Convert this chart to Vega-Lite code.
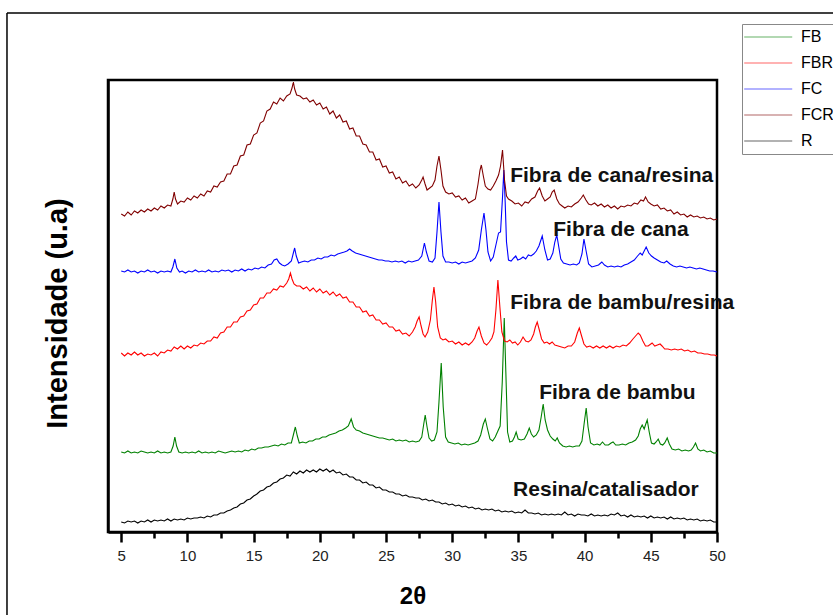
{
"$schema": "https://vega.github.io/schema/vega-lite/v6.json",
"width": 609, "height": 452,
"autosize": {"type": "none"},
"padding": {"left": 108, "top": 80, "right": 116, "bottom": 83},
"background": "white",
"config": {"view": {"stroke": "black", "strokeWidth": 2.5}, "font": "Liberation Sans", "axis": {"grid": false}},
"datasets": {
"FCR": [{"x":5,"y":318},{"x":5.25,"y":316},{"x":5.5,"y":320},{"x":5.75,"y":317},{"x":6,"y":321},{"x":6.25,"y":319},{"x":6.5,"y":322},{"x":6.75,"y":320},{"x":7,"y":323},{"x":7.25,"y":321},{"x":7.5,"y":324},{"x":7.75,"y":322},{"x":8,"y":326},{"x":8.25,"y":324},{"x":8.5,"y":327},{"x":8.75,"y":326},{"x":8.9,"y":333},{"x":9.0,"y":340},{"x":9.1,"y":333},{"x":9.25,"y":328},{"x":9.5,"y":331},{"x":9.75,"y":330},{"x":10,"y":334},{"x":10.25,"y":332},{"x":10.5,"y":336},{"x":10.75,"y":334},{"x":11,"y":338},{"x":11.25,"y":336},{"x":11.5,"y":341},{"x":11.75,"y":340},{"x":12,"y":346},{"x":12.25,"y":345},{"x":12.5,"y":350},{"x":12.75,"y":351},{"x":13,"y":358},{"x":13.25,"y":358},{"x":13.5,"y":366},{"x":13.75,"y":367},{"x":14,"y":376},{"x":14.25,"y":377},{"x":14.5,"y":387},{"x":14.75,"y":388},{"x":15,"y":397},{"x":15.25,"y":399},{"x":15.5,"y":409},{"x":15.75,"y":411},{"x":16,"y":421},{"x":16.25,"y":423},{"x":16.5,"y":430},{"x":16.75,"y":428},{"x":17,"y":434},{"x":17.25,"y":431},{"x":17.5,"y":436},{"x":17.75,"y":438},{"x":17.9,"y":444},{"x":18.0,"y":450},{"x":18.1,"y":443},{"x":18.25,"y":437},{"x":18.5,"y":436},{"x":18.75,"y":433},{"x":19,"y":434},{"x":19.25,"y":430},{"x":19.5,"y":432},{"x":19.75,"y":427},{"x":20,"y":429},{"x":20.25,"y":423},{"x":20.5,"y":425},{"x":20.75,"y":418},{"x":21,"y":421},{"x":21.25,"y":414},{"x":21.5,"y":417},{"x":21.75,"y":410},{"x":22,"y":411},{"x":22.25,"y":403},{"x":22.5,"y":404},{"x":22.75,"y":396},{"x":23,"y":396},{"x":23.25,"y":388},{"x":23.5,"y":387},{"x":23.75,"y":380},{"x":24,"y":380},{"x":24.25,"y":372},{"x":24.5,"y":373},{"x":24.75,"y":365},{"x":25,"y":366},{"x":25.25,"y":359},{"x":25.5,"y":360},{"x":25.75,"y":353},{"x":26,"y":355},{"x":26.25,"y":349},{"x":26.5,"y":351},{"x":26.75,"y":346},{"x":27,"y":348},{"x":27.25,"y":344},{"x":27.5,"y":347},{"x":27.7,"y":352},{"x":27.8,"y":355},{"x":27.95,"y":348},{"x":28.1,"y":342},{"x":28.3,"y":344},{"x":28.5,"y":346},{"x":28.7,"y":352},{"x":28.85,"y":366},{"x":29.0,"y":376},{"x":29.15,"y":362},{"x":29.3,"y":346},{"x":29.5,"y":340},{"x":29.75,"y":338},{"x":30,"y":339},{"x":30.25,"y":335},{"x":30.5,"y":336},{"x":30.75,"y":332},{"x":31,"y":334},{"x":31.25,"y":329},{"x":31.5,"y":331},{"x":31.75,"y":333},{"x":31.95,"y":348},{"x":32.1,"y":362},{"x":32.2,"y":367},{"x":32.35,"y":356},{"x":32.5,"y":346},{"x":32.7,"y":343},{"x":32.9,"y":342},{"x":33.1,"y":346},{"x":33.3,"y":351},{"x":33.5,"y":357},{"x":33.65,"y":366},{"x":33.8,"y":382},{"x":33.95,"y":352},{"x":34.1,"y":336},{"x":34.25,"y":333},{"x":34.5,"y":331},{"x":34.75,"y":328},{"x":35,"y":329},{"x":35.25,"y":326},{"x":35.5,"y":330},{"x":35.75,"y":329},{"x":36,"y":333},{"x":36.25,"y":335},{"x":36.45,"y":341},{"x":36.6,"y":344},{"x":36.8,"y":336},{"x":37,"y":331},{"x":37.2,"y":333},{"x":37.4,"y":335},{"x":37.55,"y":340},{"x":37.7,"y":342},{"x":37.9,"y":333},{"x":38.1,"y":328},{"x":38.3,"y":326},{"x":38.5,"y":324},{"x":38.75,"y":326},{"x":39,"y":325},{"x":39.25,"y":328},{"x":39.5,"y":330},{"x":39.75,"y":334},{"x":39.9,"y":337},{"x":40.1,"y":332},{"x":40.3,"y":328},{"x":40.5,"y":327},{"x":40.75,"y":329},{"x":41,"y":326},{"x":41.25,"y":328},{"x":41.5,"y":325},{"x":41.75,"y":327},{"x":42,"y":324},{"x":42.25,"y":326},{"x":42.5,"y":323},{"x":42.75,"y":326},{"x":43,"y":325},{"x":43.25,"y":327},{"x":43.5,"y":326},{"x":43.75,"y":329},{"x":44,"y":328},{"x":44.25,"y":332},{"x":44.45,"y":331},{"x":44.6,"y":335},{"x":44.8,"y":330},{"x":45,"y":328},{"x":45.25,"y":326},{"x":45.5,"y":327},{"x":45.75,"y":323},{"x":46,"y":324},{"x":46.25,"y":321},{"x":46.5,"y":322},{"x":46.75,"y":318},{"x":47,"y":320},{"x":47.25,"y":317},{"x":47.5,"y":318},{"x":47.75,"y":315},{"x":48,"y":317},{"x":48.25,"y":315},{"x":48.5,"y":316},{"x":48.75,"y":314},{"x":49,"y":315},{"x":49.25,"y":313},{"x":49.5,"y":314},{"x":49.75,"y":312},{"x":50,"y":313}],
"FC": [{"x":5,"y":261},{"x":5.25,"y":260},{"x":5.5,"y":262},{"x":5.75,"y":260},{"x":6,"y":261},{"x":6.25,"y":259},{"x":6.5,"y":261},{"x":6.75,"y":260},{"x":7,"y":262},{"x":7.25,"y":260},{"x":7.5,"y":261},{"x":7.75,"y":259},{"x":8,"y":261},{"x":8.25,"y":260},{"x":8.5,"y":261},{"x":8.75,"y":260},{"x":8.9,"y":265},{"x":9.05,"y":273},{"x":9.2,"y":264},{"x":9.4,"y":260},{"x":9.6,"y":261},{"x":9.85,"y":259},{"x":10.1,"y":261},{"x":10.35,"y":260},{"x":10.6,"y":262},{"x":10.85,"y":260},{"x":11.1,"y":261},{"x":11.35,"y":260},{"x":11.6,"y":262},{"x":11.85,"y":260},{"x":12.1,"y":261},{"x":12.35,"y":260},{"x":12.6,"y":262},{"x":12.85,"y":261},{"x":13.1,"y":262},{"x":13.35,"y":260},{"x":13.6,"y":262},{"x":13.85,"y":261},{"x":14.1,"y":263},{"x":14.35,"y":261},{"x":14.6,"y":263},{"x":14.85,"y":262},{"x":15.1,"y":264},{"x":15.35,"y":263},{"x":15.6,"y":265},{"x":15.85,"y":264},{"x":16.1,"y":267},{"x":16.35,"y":268},{"x":16.55,"y":272},{"x":16.75,"y":273},{"x":16.95,"y":269},{"x":17.15,"y":267},{"x":17.35,"y":266},{"x":17.6,"y":268},{"x":17.85,"y":271},{"x":18.0,"y":279},{"x":18.1,"y":284},{"x":18.22,"y":276},{"x":18.4,"y":269},{"x":18.6,"y":270},{"x":18.85,"y":271},{"x":19.1,"y":270},{"x":19.35,"y":272},{"x":19.6,"y":272},{"x":19.85,"y":274},{"x":20.1,"y":273},{"x":20.35,"y":275},{"x":20.6,"y":275},{"x":20.85,"y":277},{"x":21.1,"y":276},{"x":21.35,"y":278},{"x":21.6,"y":279},{"x":21.85,"y":280},{"x":22.05,"y":281},{"x":22.25,"y":283},{"x":22.45,"y":281},{"x":22.7,"y":279},{"x":22.95,"y":278},{"x":23.2,"y":277},{"x":23.45,"y":276},{"x":23.7,"y":275},{"x":23.95,"y":274},{"x":24.2,"y":273},{"x":24.45,"y":272},{"x":24.7,"y":272},{"x":24.95,"y":271},{"x":25.2,"y":271},{"x":25.45,"y":270},{"x":25.7,"y":271},{"x":25.95,"y":270},{"x":26.2,"y":271},{"x":26.45,"y":269},{"x":26.7,"y":271},{"x":26.95,"y":270},{"x":27.2,"y":271},{"x":27.45,"y":272},{"x":27.7,"y":276},{"x":27.9,"y":289},{"x":28.05,"y":280},{"x":28.25,"y":271},{"x":28.5,"y":270},{"x":28.7,"y":274},{"x":28.85,"y":300},{"x":29.0,"y":330},{"x":29.15,"y":300},{"x":29.3,"y":276},{"x":29.5,"y":270},{"x":29.75,"y":270},{"x":30,"y":269},{"x":30.25,"y":270},{"x":30.5,"y":268},{"x":30.75,"y":270},{"x":31,"y":269},{"x":31.25,"y":270},{"x":31.5,"y":271},{"x":31.75,"y":274},{"x":32.0,"y":282},{"x":32.2,"y":302},{"x":32.4,"y":319},{"x":32.55,"y":302},{"x":32.7,"y":280},{"x":32.9,"y":271},{"x":33.1,"y":275},{"x":33.3,"y":287},{"x":33.5,"y":299},{"x":33.65,"y":300},{"x":33.8,"y":335},{"x":33.9,"y":362},{"x":34.0,"y":330},{"x":34.1,"y":290},{"x":34.25,"y":272},{"x":34.45,"y":271},{"x":34.65,"y":274},{"x":34.8,"y":276},{"x":34.95,"y":272},{"x":35.15,"y":273},{"x":35.35,"y":275},{"x":35.55,"y":273},{"x":35.75,"y":277},{"x":35.95,"y":276},{"x":36.15,"y":278},{"x":36.35,"y":281},{"x":36.55,"y":286},{"x":36.8,"y":296},{"x":37.0,"y":282},{"x":37.2,"y":272},{"x":37.4,"y":273},{"x":37.6,"y":279},{"x":37.75,"y":290},{"x":37.9,"y":297},{"x":38.05,"y":285},{"x":38.2,"y":273},{"x":38.4,"y":269},{"x":38.65,"y":268},{"x":38.9,"y":267},{"x":39.15,"y":268},{"x":39.4,"y":267},{"x":39.6,"y":269},{"x":39.8,"y":278},{"x":39.95,"y":293},{"x":40.1,"y":282},{"x":40.3,"y":268},{"x":40.55,"y":265},{"x":40.8,"y":266},{"x":41.05,"y":267},{"x":41.3,"y":270},{"x":41.5,"y":267},{"x":41.75,"y":265},{"x":42,"y":266},{"x":42.25,"y":265},{"x":42.5,"y":266},{"x":42.75,"y":265},{"x":43,"y":267},{"x":43.25,"y":268},{"x":43.5,"y":270},{"x":43.75,"y":272},{"x":44.0,"y":276},{"x":44.2,"y":279},{"x":44.35,"y":277},{"x":44.5,"y":281},{"x":44.65,"y":285},{"x":44.85,"y":279},{"x":45.05,"y":276},{"x":45.25,"y":274},{"x":45.5,"y":272},{"x":45.75,"y":270},{"x":46.0,"y":269},{"x":46.2,"y":271},{"x":46.45,"y":268},{"x":46.7,"y":266},{"x":46.95,"y":265},{"x":47.2,"y":266},{"x":47.45,"y":265},{"x":47.7,"y":264},{"x":47.95,"y":265},{"x":48.2,"y":264},{"x":48.45,"y":263},{"x":48.7,"y":264},{"x":48.95,"y":263},{"x":49.2,"y":262},{"x":49.45,"y":261},{"x":49.7,"y":261},{"x":50,"y":260}],
"FBR": [{"x":5,"y":179},{"x":5.25,"y":176},{"x":5.5,"y":179},{"x":5.75,"y":177},{"x":6,"y":180},{"x":6.25,"y":177},{"x":6.5,"y":179},{"x":6.75,"y":176},{"x":7,"y":178},{"x":7.25,"y":177},{"x":7.5,"y":179},{"x":7.75,"y":176},{"x":8,"y":180},{"x":8.25,"y":179},{"x":8.5,"y":182},{"x":8.75,"y":181},{"x":9.0,"y":185},{"x":9.25,"y":183},{"x":9.5,"y":186},{"x":9.75,"y":183},{"x":10,"y":186},{"x":10.25,"y":184},{"x":10.5,"y":187},{"x":10.75,"y":186},{"x":11,"y":189},{"x":11.25,"y":188},{"x":11.5,"y":191},{"x":11.75,"y":191},{"x":12,"y":195},{"x":12.25,"y":194},{"x":12.5,"y":199},{"x":12.75,"y":200},{"x":13,"y":205},{"x":13.25,"y":205},{"x":13.5,"y":210},{"x":13.75,"y":210},{"x":14,"y":215},{"x":14.25,"y":216},{"x":14.5,"y":221},{"x":14.75,"y":222},{"x":15,"y":227},{"x":15.25,"y":228},{"x":15.5,"y":234},{"x":15.75,"y":234},{"x":16,"y":239},{"x":16.25,"y":239},{"x":16.5,"y":243},{"x":16.75,"y":242},{"x":17,"y":246},{"x":17.25,"y":245},{"x":17.5,"y":249},{"x":17.65,"y":253},{"x":17.78,"y":259},{"x":17.9,"y":253},{"x":18.05,"y":248},{"x":18.25,"y":246},{"x":18.5,"y":246},{"x":18.75,"y":243},{"x":19,"y":245},{"x":19.25,"y":241},{"x":19.5,"y":244},{"x":19.75,"y":240},{"x":20,"y":243},{"x":20.25,"y":239},{"x":20.5,"y":241},{"x":20.75,"y":237},{"x":21,"y":240},{"x":21.25,"y":236},{"x":21.5,"y":238},{"x":21.75,"y":234},{"x":22,"y":235},{"x":22.25,"y":230},{"x":22.5,"y":230},{"x":22.75,"y":225},{"x":23,"y":225},{"x":23.25,"y":220},{"x":23.5,"y":221},{"x":23.75,"y":216},{"x":24,"y":217},{"x":24.25,"y":212},{"x":24.5,"y":212},{"x":24.75,"y":208},{"x":25,"y":209},{"x":25.25,"y":205},{"x":25.5,"y":205},{"x":25.75,"y":201},{"x":26,"y":202},{"x":26.25,"y":198},{"x":26.5,"y":199},{"x":26.75,"y":196},{"x":27,"y":200},{"x":27.2,"y":205},{"x":27.35,"y":211},{"x":27.5,"y":215},{"x":27.65,"y":206},{"x":27.8,"y":198},{"x":27.95,"y":195},{"x":28.15,"y":200},{"x":28.35,"y":212},{"x":28.5,"y":232},{"x":28.62,"y":245},{"x":28.75,"y":230},{"x":28.9,"y":205},{"x":29.1,"y":194},{"x":29.3,"y":192},{"x":29.5,"y":193},{"x":29.75,"y":190},{"x":30,"y":191},{"x":30.25,"y":188},{"x":30.5,"y":190},{"x":30.75,"y":187},{"x":31,"y":189},{"x":31.25,"y":187},{"x":31.5,"y":190},{"x":31.7,"y":194},{"x":31.88,"y":201},{"x":32.02,"y":205},{"x":32.2,"y":196},{"x":32.4,"y":189},{"x":32.6,"y":187},{"x":32.8,"y":190},{"x":33.0,"y":194},{"x":33.15,"y":200},{"x":33.3,"y":222},{"x":33.45,"y":252},{"x":33.6,"y":225},{"x":33.75,"y":200},{"x":33.95,"y":191},{"x":34.15,"y":190},{"x":34.35,"y":192},{"x":34.55,"y":189},{"x":34.75,"y":190},{"x":34.95,"y":187},{"x":35.15,"y":190},{"x":35.35,"y":195},{"x":35.55,"y":191},{"x":35.75,"y":190},{"x":35.95,"y":192},{"x":36.15,"y":198},{"x":36.28,"y":205},{"x":36.42,"y":210},{"x":36.58,"y":202},{"x":36.75,"y":193},{"x":36.95,"y":189},{"x":37.15,"y":190},{"x":37.35,"y":188},{"x":37.55,"y":190},{"x":37.75,"y":187},{"x":38,"y":186},{"x":38.25,"y":185},{"x":38.5,"y":184},{"x":38.75,"y":186},{"x":39.0,"y":186},{"x":39.25,"y":190},{"x":39.45,"y":199},{"x":39.6,"y":204},{"x":39.75,"y":197},{"x":39.95,"y":188},{"x":40.15,"y":185},{"x":40.4,"y":186},{"x":40.65,"y":184},{"x":40.9,"y":186},{"x":41.15,"y":184},{"x":41.4,"y":186},{"x":41.65,"y":184},{"x":41.9,"y":186},{"x":42.15,"y":184},{"x":42.4,"y":186},{"x":42.65,"y":185},{"x":42.9,"y":187},{"x":43.15,"y":186},{"x":43.4,"y":189},{"x":43.65,"y":193},{"x":43.85,"y":196},{"x":44.05,"y":199},{"x":44.2,"y":197},{"x":44.4,"y":191},{"x":44.6,"y":186},{"x":44.8,"y":186},{"x":45.0,"y":188},{"x":45.1,"y":189},{"x":45.3,"y":186},{"x":45.5,"y":187},{"x":45.7,"y":188},{"x":45.85,"y":186},{"x":46.05,"y":183},{"x":46.3,"y":183},{"x":46.55,"y":182},{"x":46.8,"y":183},{"x":47.05,"y":182},{"x":47.3,"y":183},{"x":47.55,"y":181},{"x":47.8,"y":182},{"x":48.05,"y":180},{"x":48.3,"y":181},{"x":48.55,"y":179},{"x":48.8,"y":179},{"x":49.05,"y":178},{"x":49.3,"y":178},{"x":49.55,"y":177},{"x":49.8,"y":177},{"x":50,"y":176}],
"FB": [{"x":5,"y":80},{"x":5.25,"y":79},{"x":5.5,"y":81},{"x":5.75,"y":79},{"x":6,"y":80},{"x":6.25,"y":79},{"x":6.5,"y":81},{"x":6.75,"y":80},{"x":7,"y":79},{"x":7.25,"y":80},{"x":7.5,"y":79},{"x":7.75,"y":81},{"x":8,"y":79},{"x":8.25,"y":80},{"x":8.5,"y":79},{"x":8.75,"y":80},{"x":8.92,"y":86},{"x":9.05,"y":95},{"x":9.18,"y":86},{"x":9.35,"y":80},{"x":9.6,"y":79},{"x":9.85,"y":80},{"x":10.1,"y":79},{"x":10.35,"y":80},{"x":10.6,"y":79},{"x":10.85,"y":81},{"x":11.1,"y":79},{"x":11.35,"y":80},{"x":11.6,"y":79},{"x":11.85,"y":80},{"x":12.1,"y":79},{"x":12.35,"y":81},{"x":12.6,"y":80},{"x":12.85,"y":79},{"x":13.1,"y":80},{"x":13.35,"y":81},{"x":13.6,"y":80},{"x":13.85,"y":81},{"x":14.1,"y":80},{"x":14.35,"y":82},{"x":14.6,"y":81},{"x":14.85,"y":83},{"x":15.1,"y":82},{"x":15.35,"y":84},{"x":15.6,"y":84},{"x":15.85,"y":85},{"x":16.1,"y":85},{"x":16.35,"y":86},{"x":16.6,"y":87},{"x":16.85,"y":86},{"x":17.1,"y":88},{"x":17.35,"y":87},{"x":17.6,"y":89},{"x":17.85,"y":89},{"x":18.0,"y":97},{"x":18.15,"y":105},{"x":18.3,"y":96},{"x":18.45,"y":89},{"x":18.7,"y":90},{"x":18.95,"y":89},{"x":19.2,"y":91},{"x":19.45,"y":91},{"x":19.7,"y":93},{"x":19.95,"y":93},{"x":20.2,"y":95},{"x":20.45,"y":95},{"x":20.7,"y":97},{"x":20.95,"y":98},{"x":21.2,"y":99},{"x":21.45,"y":101},{"x":21.7,"y":102},{"x":21.95,"y":104},{"x":22.15,"y":106},{"x":22.37,"y":113},{"x":22.55,"y":105},{"x":22.75,"y":102},{"x":23.0,"y":101},{"x":23.25,"y":99},{"x":23.5,"y":98},{"x":23.75,"y":97},{"x":24.0,"y":96},{"x":24.25,"y":95},{"x":24.5,"y":94},{"x":24.75,"y":94},{"x":25.0,"y":93},{"x":25.25,"y":92},{"x":25.5,"y":93},{"x":25.75,"y":91},{"x":26.0,"y":92},{"x":26.25,"y":91},{"x":26.5,"y":92},{"x":26.75,"y":90},{"x":27.0,"y":91},{"x":27.25,"y":90},{"x":27.5,"y":91},{"x":27.7,"y":95},{"x":27.85,"y":108},{"x":27.96,"y":117},{"x":28.1,"y":105},{"x":28.25,"y":94},{"x":28.45,"y":91},{"x":28.65,"y":92},{"x":28.85,"y":100},{"x":29.0,"y":130},{"x":29.17,"y":169},{"x":29.32,"y":125},{"x":29.5,"y":95},{"x":29.7,"y":90},{"x":29.95,"y":89},{"x":30.2,"y":88},{"x":30.45,"y":89},{"x":30.7,"y":87},{"x":30.95,"y":88},{"x":31.2,"y":87},{"x":31.45,"y":88},{"x":31.7,"y":89},{"x":31.95,"y":91},{"x":32.15,"y":97},{"x":32.35,"y":108},{"x":32.5,"y":113},{"x":32.65,"y":104},{"x":32.85,"y":93},{"x":33.05,"y":91},{"x":33.25,"y":95},{"x":33.45,"y":101},{"x":33.62,"y":106},{"x":33.78,"y":150},{"x":33.93,"y":214},{"x":34.05,"y":160},{"x":34.18,"y":100},{"x":34.35,"y":90},{"x":34.55,"y":91},{"x":34.7,"y":95},{"x":34.83,"y":100},{"x":34.98,"y":93},{"x":35.2,"y":92},{"x":35.45,"y":93},{"x":35.65,"y":98},{"x":35.82,"y":104},{"x":35.98,"y":98},{"x":36.15,"y":95},{"x":36.35,"y":97},{"x":36.55,"y":102},{"x":36.72,"y":115},{"x":36.87,"y":128},{"x":37.02,"y":112},{"x":37.2,"y":102},{"x":37.4,"y":96},{"x":37.6,"y":93},{"x":37.78,"y":91},{"x":37.93,"y":94},{"x":38.1,"y":89},{"x":38.35,"y":86},{"x":38.6,"y":85},{"x":38.85,"y":86},{"x":39.1,"y":85},{"x":39.35,"y":86},{"x":39.6,"y":86},{"x":39.8,"y":91},{"x":39.98,"y":110},{"x":40.12,"y":124},{"x":40.26,"y":105},{"x":40.45,"y":89},{"x":40.7,"y":87},{"x":40.95,"y":88},{"x":41.15,"y":87},{"x":41.35,"y":90},{"x":41.55,"y":87},{"x":41.8,"y":87},{"x":42.0,"y":89},{"x":42.15,"y":90},{"x":42.35,"y":87},{"x":42.6,"y":87},{"x":42.85,"y":88},{"x":43.1,"y":87},{"x":43.35,"y":89},{"x":43.6,"y":90},{"x":43.85,"y":92},{"x":44.05,"y":96},{"x":44.2,"y":103},{"x":44.35,"y":107},{"x":44.5,"y":103},{"x":44.62,"y":108},{"x":44.73,"y":112},{"x":44.88,"y":100},{"x":45.05,"y":89},{"x":45.25,"y":88},{"x":45.4,"y":90},{"x":45.56,"y":93},{"x":45.72,"y":88},{"x":45.9,"y":87},{"x":46.05,"y":89},{"x":46.24,"y":94},{"x":46.4,"y":88},{"x":46.6,"y":83},{"x":46.85,"y":82},{"x":47.1,"y":83},{"x":47.35,"y":81},{"x":47.6,"y":82},{"x":47.85,"y":81},{"x":48.05,"y":82},{"x":48.22,"y":85},{"x":48.38,"y":89},{"x":48.55,"y":83},{"x":48.75,"y":81},{"x":49.0,"y":82},{"x":49.25,"y":80},{"x":49.5,"y":81},{"x":49.75,"y":79},{"x":50,"y":79}],
"R": [{"x":5,"y":10},{"x":5.25,"y":9},{"x":5.5,"y":11},{"x":5.75,"y":10},{"x":6,"y":11},{"x":6.25,"y":9},{"x":6.5,"y":11},{"x":6.75,"y":10},{"x":7,"y":12},{"x":7.25,"y":10},{"x":7.5,"y":12},{"x":7.75,"y":11},{"x":8,"y":12},{"x":8.25,"y":11},{"x":8.5,"y":13},{"x":8.75,"y":11},{"x":9,"y":13},{"x":9.25,"y":12},{"x":9.5,"y":13},{"x":9.75,"y":12},{"x":10,"y":14},{"x":10.25,"y":13},{"x":10.5,"y":14},{"x":10.75,"y":14},{"x":11,"y":15},{"x":11.25,"y":14},{"x":11.5,"y":16},{"x":11.75,"y":15},{"x":12,"y":17},{"x":12.25,"y":17},{"x":12.5,"y":19},{"x":12.75,"y":19},{"x":13,"y":21},{"x":13.25,"y":22},{"x":13.5,"y":24},{"x":13.75,"y":25},{"x":14,"y":28},{"x":14.25,"y":29},{"x":14.5,"y":32},{"x":14.75,"y":33},{"x":15,"y":36},{"x":15.25,"y":38},{"x":15.5,"y":41},{"x":15.75,"y":42},{"x":16,"y":45},{"x":16.25,"y":46},{"x":16.5,"y":49},{"x":16.75,"y":50},{"x":17,"y":53},{"x":17.25,"y":54},{"x":17.5,"y":57},{"x":17.75,"y":56},{"x":18,"y":60},{"x":18.25,"y":58},{"x":18.5,"y":61},{"x":18.75,"y":59},{"x":19,"y":62},{"x":19.25,"y":60},{"x":19.5,"y":62},{"x":19.75,"y":60},{"x":20,"y":63},{"x":20.25,"y":61},{"x":20.5,"y":63},{"x":20.75,"y":60},{"x":21,"y":62},{"x":21.25,"y":59},{"x":21.5,"y":60},{"x":21.75,"y":57},{"x":22,"y":58},{"x":22.25,"y":55},{"x":22.5,"y":55},{"x":22.75,"y":52},{"x":23,"y":52},{"x":23.25,"y":49},{"x":23.5,"y":50},{"x":23.75,"y":47},{"x":24,"y":47},{"x":24.25,"y":44},{"x":24.5,"y":45},{"x":24.75,"y":42},{"x":25,"y":42},{"x":25.25,"y":40},{"x":25.5,"y":40},{"x":25.75,"y":38},{"x":26,"y":38},{"x":26.25,"y":36},{"x":26.5,"y":37},{"x":26.75,"y":35},{"x":27,"y":35},{"x":27.25,"y":34},{"x":27.5,"y":34},{"x":27.75,"y":32},{"x":28,"y":33},{"x":28.25,"y":31},{"x":28.5,"y":32},{"x":28.75,"y":30},{"x":29,"y":30},{"x":29.25,"y":28},{"x":29.5,"y":29},{"x":29.75,"y":27},{"x":30,"y":28},{"x":30.25,"y":26},{"x":30.5,"y":27},{"x":30.75,"y":25},{"x":31,"y":26},{"x":31.25,"y":24},{"x":31.5,"y":25},{"x":31.75,"y":23},{"x":32,"y":24},{"x":32.25,"y":22},{"x":32.5,"y":23},{"x":32.75,"y":22},{"x":33,"y":23},{"x":33.25,"y":21},{"x":33.5,"y":22},{"x":33.75,"y":20},{"x":34,"y":21},{"x":34.25,"y":20},{"x":34.5,"y":21},{"x":34.75,"y":19},{"x":35,"y":20},{"x":35.25,"y":19},{"x":35.5,"y":22},{"x":35.75,"y":19},{"x":36,"y":19},{"x":36.25,"y":18},{"x":36.5,"y":19},{"x":36.75,"y":17},{"x":37,"y":18},{"x":37.25,"y":17},{"x":37.5,"y":18},{"x":37.75,"y":17},{"x":38,"y":18},{"x":38.25,"y":17},{"x":38.5,"y":20},{"x":38.75,"y":17},{"x":39,"y":18},{"x":39.25,"y":16},{"x":39.5,"y":18},{"x":39.75,"y":17},{"x":40,"y":17},{"x":40.25,"y":16},{"x":40.5,"y":18},{"x":40.75,"y":16},{"x":41,"y":17},{"x":41.25,"y":16},{"x":41.5,"y":17},{"x":41.75,"y":16},{"x":42,"y":18},{"x":42.25,"y":17},{"x":42.5,"y":19},{"x":42.75,"y":16},{"x":43,"y":17},{"x":43.25,"y":15},{"x":43.5,"y":17},{"x":43.75,"y":15},{"x":44,"y":16},{"x":44.25,"y":15},{"x":44.5,"y":16},{"x":44.75,"y":14},{"x":45,"y":16},{"x":45.25,"y":14},{"x":45.5,"y":15},{"x":45.75,"y":14},{"x":46,"y":15},{"x":46.25,"y":13},{"x":46.5,"y":15},{"x":46.75,"y":13},{"x":47,"y":14},{"x":47.25,"y":13},{"x":47.5,"y":14},{"x":47.75,"y":12},{"x":48,"y":13},{"x":48.25,"y":12},{"x":48.5,"y":13},{"x":48.75,"y":11},{"x":49,"y":12},{"x":49.25,"y":11},{"x":49.5,"y":12},{"x":49.75,"y":10},{"x":50,"y":10}],
"labels": [{"x":34.38,"y":356,"t":"Fibra de cana/resina"},{"x":37.63,"y":302,"t":"Fibra de cana"},{"x":34.38,"y":229,"t":"Fibra de bambu/resina"},{"x":36.57,"y":139,"t":"Fibra de bambu"},{"x":34.6,"y":42,"t":"Resina/catalisador"}]
},
"encoding": {
"x": {"field": "x", "type": "quantitative", "scale": {"domain": [4, 50], "nice": false, "zero": false},
 "axis": {"title": "2θ", "values": [5,7.5,10,12.5,15,17.5,20,22.5,25,27.5,30,32.5,35,37.5,40,42.5,45,47.5,50], "labelExpr": "datum.value % 5 === 0 ? datum.label : ''", "tickSize": {"condition": {"test": "datum.value % 5 === 0", "value": 10}, "value": 6}, "tickWidth": 2.5, "tickColor": "black", "domainColor": "black", "domainWidth": 2.5, "labelFontSize": 15, "labelColor": "#222222", "labelPadding": 6, "labelFlush": false, "labelFont": "Liberation Sans", "titleFont": "Liberation Sans", "titleFontSize": 24, "titleFontWeight": "bold", "titleColor": "black", "titlePadding": 21, "grid": false}},
"y": {"field": "y", "type": "quantitative", "scale": {"domain": [0, 452], "nice": false, "zero": false},
 "axis": {"title": "Intensidade (u.a)", "ticks": false, "labels": false, "domainColor": "black", "domainWidth": 2.5, "titleFont": "Liberation Sans", "titleFontSize": 29, "titleFontWeight": "bold", "titleColor": "black", "titlePadding": 36, "titleY": 233, "grid": false}}
},
"layer": [
{"data": {"name": "R"}, "mark": {"type": "line", "strokeWidth": 1.1}, "encoding": {"color": {"datum": "R", "scale": {"domain": ["FB","FBR","FC","FCR","R"], "range": ["#008000","#ff0000","#0000ff","#800000","#000000"]}, "legend": {"title": null, "orient": "none", "legendX": 634, "legendY": -56, "strokeColor": "#888888", "fillColor": "white", "padding": 5, "symbolType": "M-1.8,0H6.2", "symbolSize": 144, "symbolStrokeWidth": 1.2, "symbolOpacity": 0.6, "labelFontSize": 16, "labelFont": "Liberation Sans", "labelColor": "black", "labelOffset": 38, "rowPadding": 10, "labelLimit": 0}}}},
{"data": {"name": "FB"}, "mark": {"type": "line", "strokeWidth": 1.1}, "encoding": {"color": {"datum": "FB"}}},
{"data": {"name": "FBR"}, "mark": {"type": "line", "strokeWidth": 1.1}, "encoding": {"color": {"datum": "FBR"}}},
{"data": {"name": "FC"}, "mark": {"type": "line", "strokeWidth": 1.1}, "encoding": {"color": {"datum": "FC"}}},
{"data": {"name": "FCR"}, "mark": {"type": "line", "strokeWidth": 1.1}, "encoding": {"color": {"datum": "FCR"}}},
{"data": {"name": "labels"}, "mark": {"type": "text", "align": "left", "baseline": "middle", "fontSize": 21, "fontWeight": "bold", "font": "Liberation Sans", "color": "#111111"}, "encoding": {"text": {"field": "t"}}},
{"data": {"name": "labels"}, "transform": [{"filter": "datum.t == 'Resina/catalisador'"}], "mark": {"type": "rule", "stroke": "black", "strokeWidth": 1.5},
 "encoding": {"x": {"datum": -3.63, "type": "quantitative"}, "y": {"datum": 519, "type": "quantitative"}, "y2": {"datum": -100}}},
{"data": {"name": "labels"}, "transform": [{"filter": "datum.t == 'Resina/catalisador'"}], "mark": {"type": "rule", "stroke": "black", "strokeWidth": 1.5},
 "encoding": {"x": {"datum": -3.63, "type": "quantitative"}, "x2": {"datum": 60}, "y": {"datum": 519, "type": "quantitative"}}}
]
}
